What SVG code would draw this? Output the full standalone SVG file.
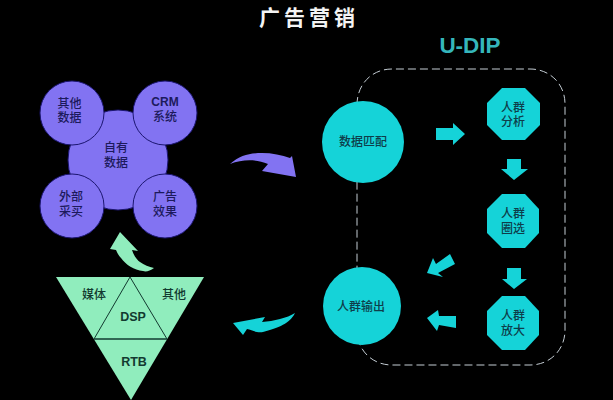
<svg xmlns="http://www.w3.org/2000/svg" width="613" height="400" viewBox="0 0 613 400">
<style>
text{font-family:"Noto Sans CJK SC","Liberation Sans",sans-serif;text-anchor:middle;font-size:12px}
.p{fill:#8273f2;stroke:#1b1570;stroke-width:1}
.pt{fill:#1c1a5c;font-weight:500}
.g{fill:#90edbd}
.gt{fill:#123a30;font-weight:500}
.c{fill:#15d3d8}
.ct{fill:#0e3d4a;font-weight:500}
.b{font-family:"Liberation Sans",sans-serif;font-weight:700}
</style>
<rect width="613" height="400" fill="#000"/>
<g id="title"><text x="309" y="25" style="font-size:21px" font-weight="700" fill="#f4f4f4" letter-spacing="4">广告营销</text></g>
<g id="u-dip-label"><text class="b" x="470" y="53" style="font-size:22.500px" fill="#35b6bb">U-DIP</text></g>
<g id="connectors">
<path d="M357 105C357 84 372 69 392 69H530C550 69 565 84 565 104V330C565 350 550 365 530 365H392C372 365 357 350 357 330Z" fill="none" stroke="#c4cdd4" stroke-width="1" stroke-dasharray="8 4"/>
<path fill="#8273f2" d="M230 164C240 155 250 153 262 153C272 153 282 155 290 158L292 156L296 177L262 171L268 164C256 159 243 159 230 164Z"/>
<path class="g" d="M120 232L138 251L132 250C134 256 137 260 140 262C144 265 149 267 154 268C150 271 146 272 143 271C134 270 126 265 121 258C118 255 117 252 116 250L110 249Z"/>
<path class="c" d="M233 323L265 317L262 322C274 321 287 318 295 313C291 321 283 327 263 332C256 333 252 330 247 329L243 335Z"/>
<path class="c" d="M436 128H453V123L465 134L453 145V140H436Z"/>
<path class="c" d="M507 159H521V169H528L514 180L501 169H507Z"/>
<path class="c" d="M507 268H521V279H527L514 289L502 279H507Z"/>
<path class="c" d="M450 254L455 264L438 273L443 277L427 273L433 258L436 264Z"/>
<path class="c" d="M456 316V328L439 325L437 331L427 318L438 310L439 316Z"/>
</g>
<g id="node-zyou"><circle class="p" cx="118" cy="160" r="50"/><text class="pt"><tspan x="116" y="151.500">自有</tspan><tspan x="116" y="166.500">数据</tspan></text></g>
<g id="node-qita"><circle class="p" cx="72" cy="113" r="32"/><text class="pt"><tspan x="69.500" y="107.500">其他</tspan><tspan x="69.500" y="122">数据</tspan></text></g>
<g id="node-crm"><circle class="p" cx="165" cy="113" r="32"/><text class="pt"><tspan class="b" x="165" y="105.500">CRM</tspan><tspan x="165" y="120.500">系统</tspan></text></g>
<g id="node-waibu"><circle class="p" cx="72" cy="206" r="32"/><text class="pt"><tspan x="71" y="200.500">外部</tspan><tspan x="71" y="215.500">采买</tspan></text></g>
<g id="node-guanggao"><circle class="p" cx="165" cy="206" r="32"/><text class="pt"><tspan x="165" y="200.500">广告</tspan><tspan x="165" y="215.500">效果</tspan></text></g>
<g id="node-triangle">
<path class="g" d="M56 277H204L131 400Z"/>
<path d="M94 339L130 277L167 339ZM94 339H167" fill="none" stroke="#123a30" stroke-width="1"/>
<text class="gt" x="94" y="298.500">媒体</text><text class="gt" x="174" y="298.500">其他</text>
<text class="gt b" x="133" y="320.500" style="font-size:12.500px">DSP</text><text class="gt b" x="134" y="365.500" style="font-size:12.500px">RTB</text>
</g>
<g id="node-match"><circle class="c" cx="363" cy="142" r="41"/><text class="ct" x="363" y="145.500">数据匹配</text></g>
<g id="node-output"><circle class="c" cx="362" cy="306" r="39"/><text class="ct" x="361" y="310.500">人群输出</text></g>
<g id="node-analysis"><path class="c" d="M502 88H525L540 103V125L525 140H502L487 125V103Z"/><text class="ct"><tspan x="513" y="111.500">人群</tspan><tspan x="513" y="125.500">分析</tspan></text></g>
<g id="node-select"><path class="c" d="M502 194H525L539 209V233L525 248H502L487 233V209Z"/><text class="ct"><tspan x="513" y="217.500">人群</tspan><tspan x="513" y="232.500">圈选</tspan></text></g>
<g id="node-expand"><path class="c" d="M502 296H525L539 311V335L525 350H502L487 335V311Z"/><text class="ct"><tspan x="513" y="319.500">人群</tspan><tspan x="513" y="334.500">放大</tspan></text></g>
</svg>
